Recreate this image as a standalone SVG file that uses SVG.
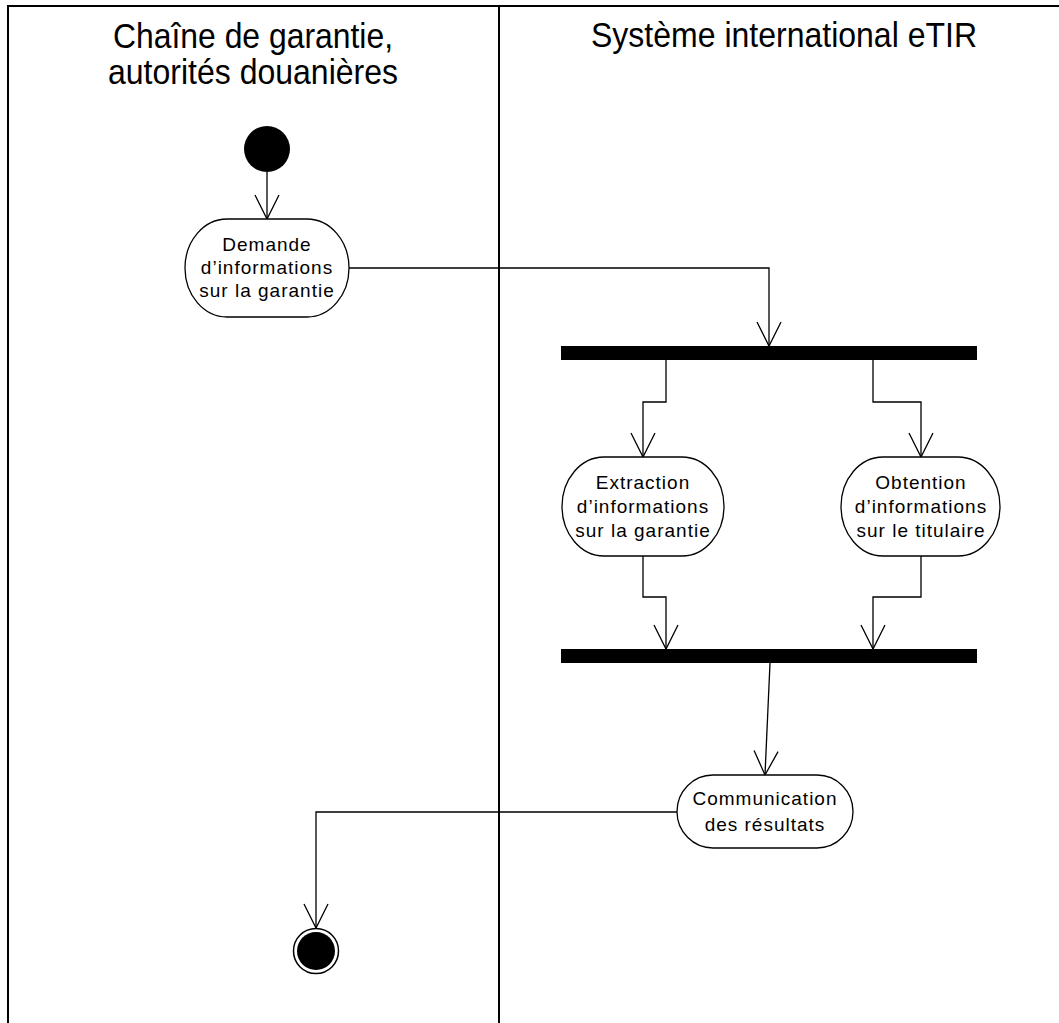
<svg xmlns="http://www.w3.org/2000/svg" width="1059" height="1023" viewBox="0 0 1059 1023">
<style>
.lane{stroke:#000;stroke-width:2;fill:none}
.hdr{font-family:"Liberation Sans",Arial,sans-serif;font-size:35px;fill:#000;text-anchor:middle}
.act{fill:#fff;stroke:#000;stroke-width:1.3}
.lbl{font-family:"Liberation Sans",Arial,sans-serif;font-size:19px;letter-spacing:1px;fill:#000;text-anchor:middle}
.bar{fill:#000}
.con{fill:none;stroke:#000;stroke-width:1.3;marker-end:url(#arr)}
</style>
<defs>
<marker id="arr" markerUnits="userSpaceOnUse" viewBox="-26 -14 28 28" refX="0" refY="0" markerWidth="28" markerHeight="28" orient="auto" overflow="visible">
<path d="M-24,-12 L0,0 L-24,12" fill="none" stroke="#000" stroke-width="1.3"/>
</marker>
</defs>
<rect width="1059" height="1023" fill="#fff"/>
<g id="lanes">
<path class="lane" d="M8,1023 V6 H1059"/>
<path class="lane" d="M499,6 V1023"/>
<text class="hdr" x="253" y="48" textLength="280" lengthAdjust="spacingAndGlyphs">Chaîne de garantie,</text>
<text class="hdr" x="253" y="84" textLength="290" lengthAdjust="spacingAndGlyphs">autorités douanières</text>
<text class="hdr" x="784" y="47" textLength="386" lengthAdjust="spacingAndGlyphs">Système international eTIR</text>
</g>
<g id="connectors">
<path class="con" d="M267,172 V219"/>
<path class="con" d="M349,268 H769 V346"/>
<path class="con" d="M666,360 V402 H643 V457"/>
<path class="con" d="M873,360 V402 H921 V457"/>
<path class="con" d="M643,556 V597 H666 V649"/>
<path class="con" d="M921,556 V597 H873 V649"/>
<path class="con" d="M770,663 L765,775"/>
<path class="con" d="M677,812 H316 V928"/>
</g>
<g id="start">
<circle cx="267" cy="149" r="23" fill="#000"/>
</g>
<g id="demande">
<rect class="act" x="185" y="219" width="164" height="98" rx="42" ry="49"/>
<text class="lbl" x="267" y="251">Demande</text>
<text class="lbl" x="267" y="274">d’informations</text>
<text class="lbl" x="267" y="297">sur la garantie</text>
</g>
<g id="fork">
<rect class="bar" x="561" y="346" width="416" height="14"/>
</g>
<g id="extraction">
<rect class="act" x="562" y="457" width="162" height="99" rx="42" ry="49.5"/>
<text class="lbl" x="643" y="489">Extraction</text>
<text class="lbl" x="643" y="513">d’informations</text>
<text class="lbl" x="643" y="537">sur la garantie</text>
</g>
<g id="obtention">
<rect class="act" x="841" y="457" width="159" height="99" rx="42" ry="49.5"/>
<text class="lbl" x="921" y="489">Obtention</text>
<text class="lbl" x="921" y="513">d’informations</text>
<text class="lbl" x="921" y="537">sur le titulaire</text>
</g>
<g id="join">
<rect class="bar" x="561" y="649" width="416" height="14"/>
</g>
<g id="communication">
<rect class="act" x="677" y="775" width="176" height="73" rx="36" ry="36.5"/>
<text class="lbl" x="765" y="805">Communication</text>
<text class="lbl" x="765" y="831">des résultats</text>
</g>
<g id="end">
<circle cx="316" cy="951" r="22.5" fill="#fff" stroke="#000" stroke-width="1.5"/>
<circle cx="316" cy="951" r="19" fill="#000"/>
</g>
</svg>
